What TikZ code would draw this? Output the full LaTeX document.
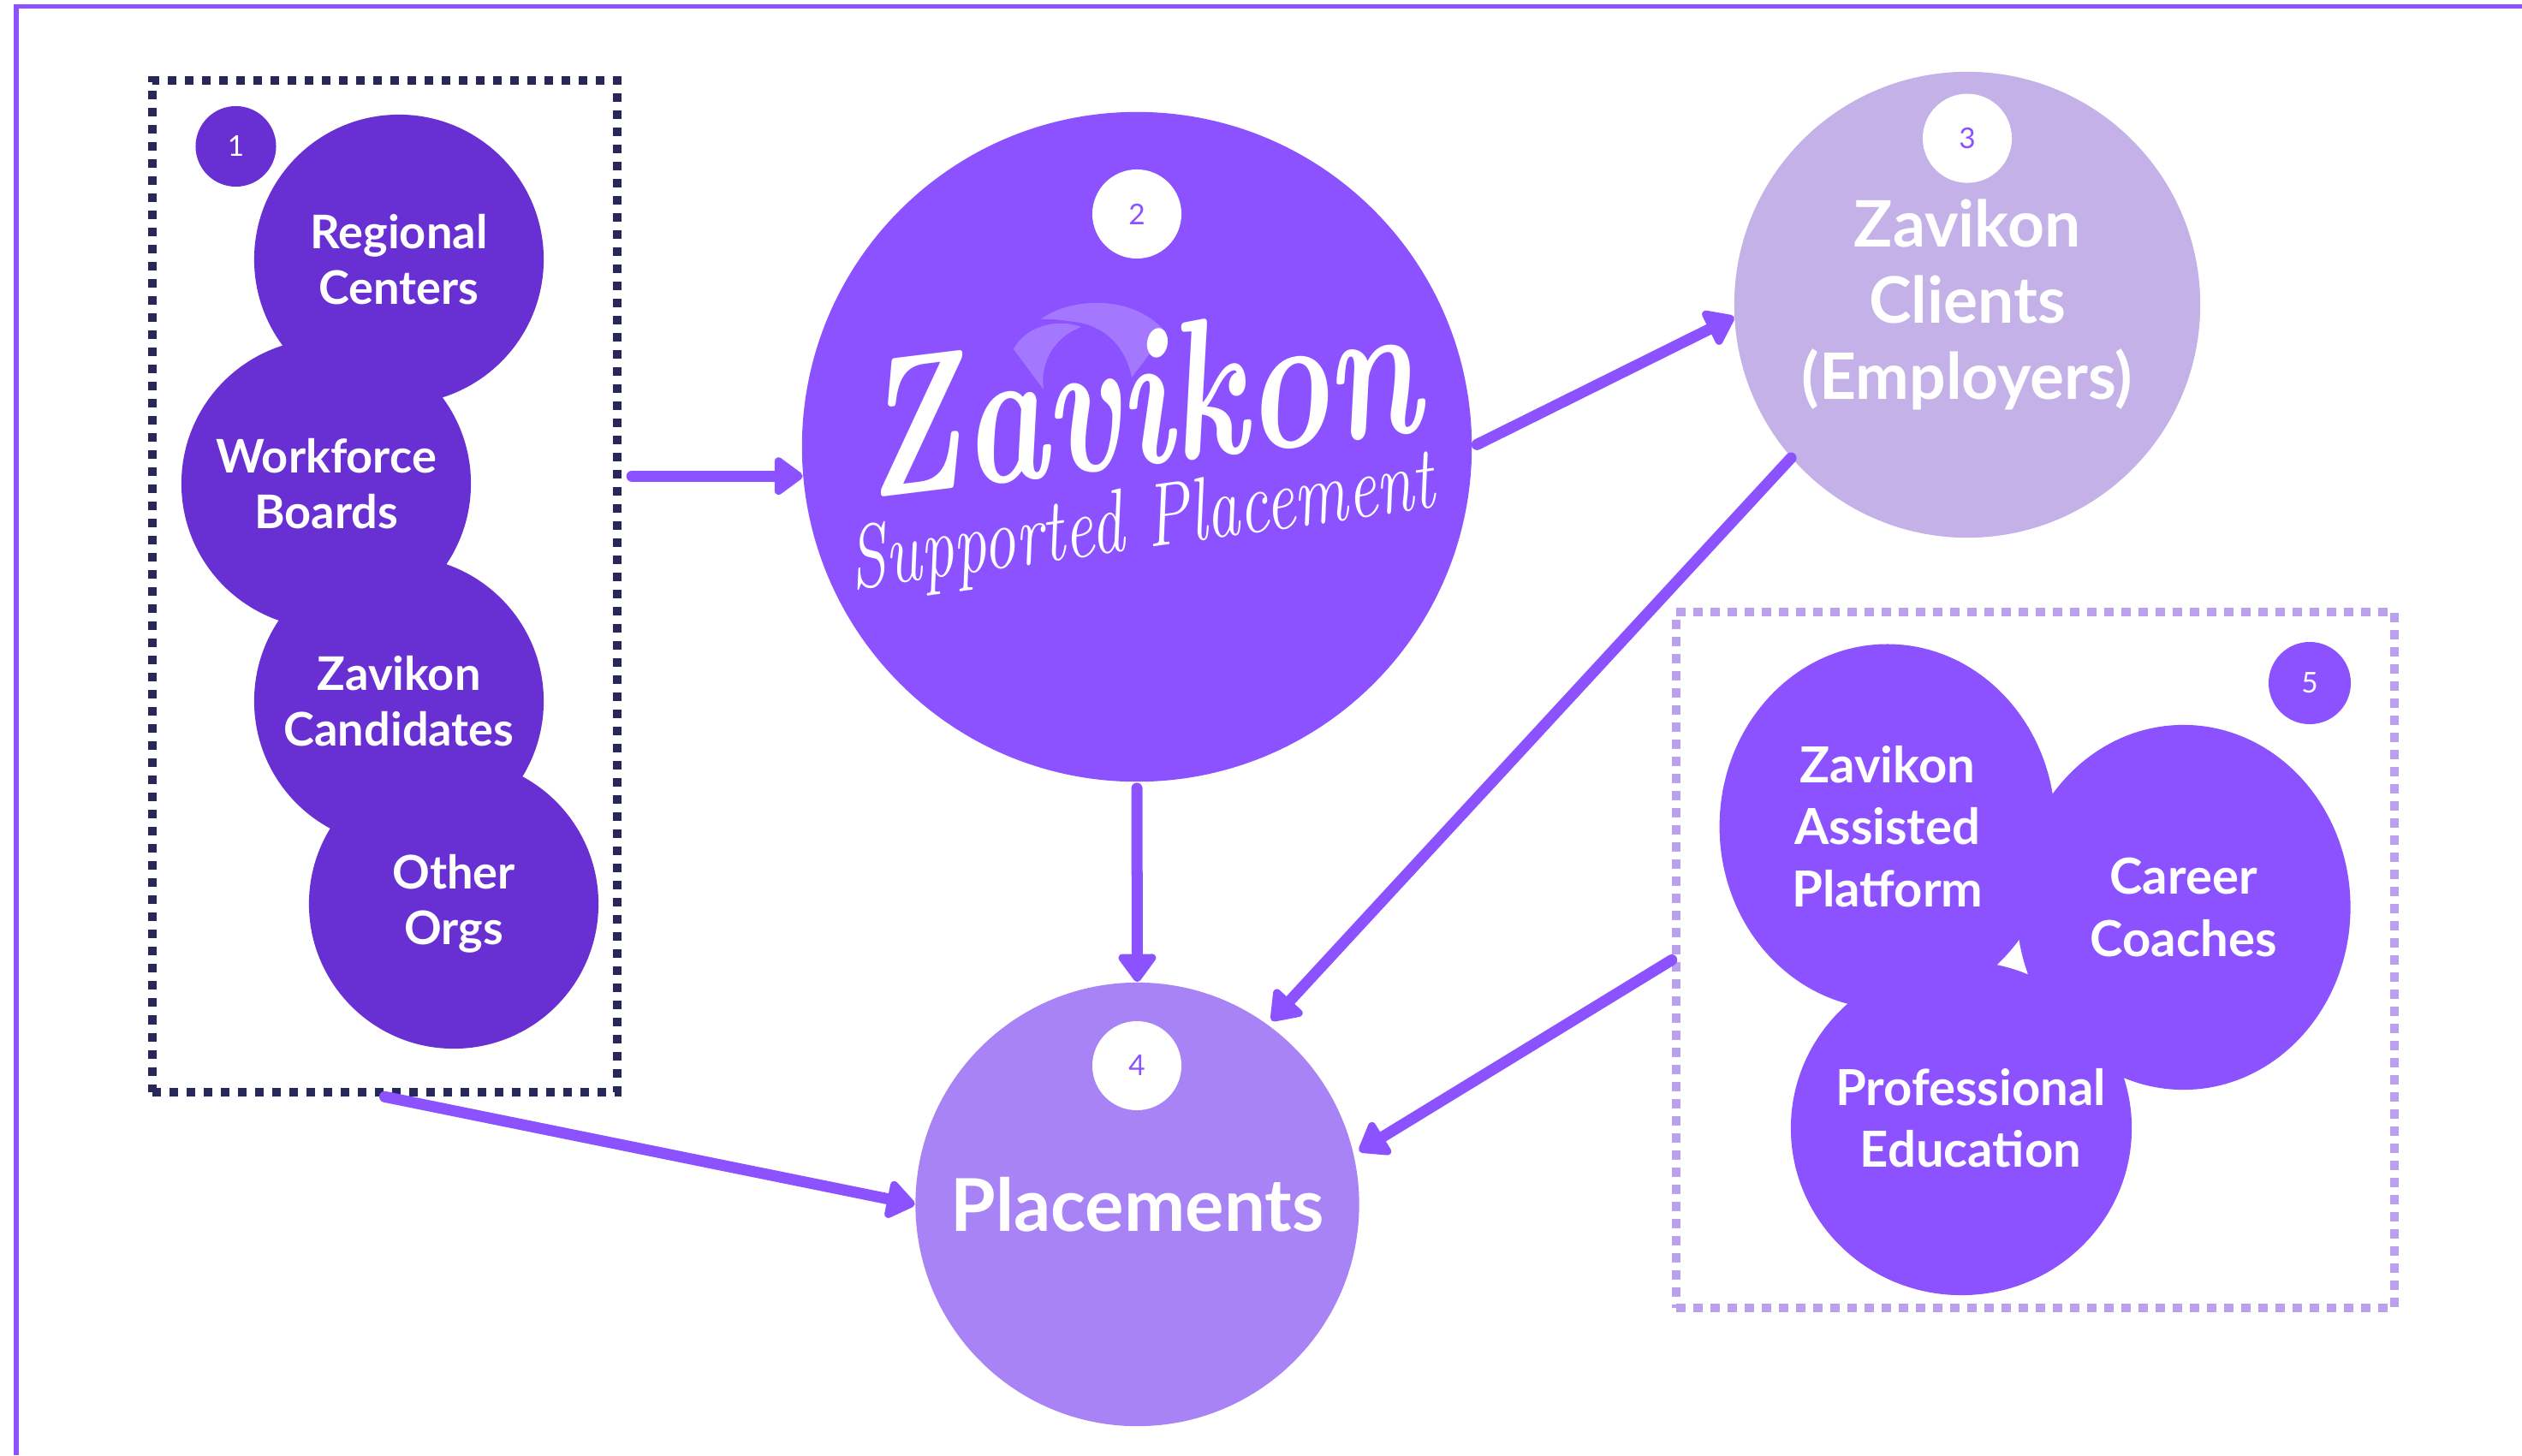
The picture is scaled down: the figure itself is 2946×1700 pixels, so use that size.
\documentclass[tikz,border=0pt]{standalone}
\usepackage{fontspec}
\usepackage{graphicx}
\setmainfont{Lato}
\newfontfamily\logofont{Latin Modern Roman}
\usetikzlibrary{arrows.meta,shapes.geometric}
\definecolor{dpurple}{HTML}{6830D3}
\definecolor{mpurple}{HTML}{8C52FF}
\definecolor{lpurple}{HTML}{C3B1E8}
\definecolor{ppurple}{HTML}{A883F5}
\definecolor{navy}{HTML}{28275A}
\definecolor{lav}{HTML}{BBA0EE}
\definecolor{logoc}{HTML}{A477FF}
\begin{document}
\begin{tikzpicture}[x=0.01cm,y=-0.01cm,
  blob/.style={circle,inner sep=0pt,text=white,align=center},
  gone/.style={blob,fill=dpurple,minimum size=3.38cm,font={\fontsize{15.4}{18.5}\selectfont\bfseries}},
  gfive/.style={ellipse,inner sep=0pt,text=white,align=center,fill=mpurple,font={\fontsize{16.5}{20.5}\selectfont\bfseries}},
  gfivetext/.style={inner sep=0pt,text=white,align=center,font={\fontsize{16.5}{20.5}\selectfont\bfseries}},
  wbadge/.style={circle,inner sep=0pt,fill=white,text=mpurple,minimum size=1.04cm,font={\fontsize{9.5}{10}\selectfont}},
  pbadge/.style={circle,inner sep=0pt,text=white,font={\fontsize{9.5}{10}\selectfont}},
  arr/.style={draw=mpurple,line width=0.13cm,line cap=round,-{Triangle[width=0.5cm,length=0.36cm,round]}},
  dotbox/.style={rectangle,inner sep=0pt,line width=0.1cm,dash pattern=on 0.1cm off 0.1cm}]
\useasboundingbox (0,0) rectangle (2946,1700);
\fill[white] (0,0) rectangle (2946,1700);
% frame
\draw[mpurple,line width=0.05cm] (19,1700) -- (19,8) -- (2946,8);
% group 1
\node[dotbox,draw=navy,minimum width=5.43cm,minimum height=11.82cm] (box1) at (449.5,685) {};
\node[gone] (reg) at (466,303) {Regional\\Centers};
\node[gone] (wfb) at (381,565) {Workforce\\Boards};
\node[gone] (cand) at (466,819) {Zavikon\\Candidates};
\node[gone] (oth) at (530,1056) {Other\\Orgs};
\node[pbadge,fill=dpurple,minimum size=0.94cm] (b1) at (275.5,171) {1};
% circle 2
\node[blob,fill=mpurple,minimum size=7.82cm] (c2) at (1328,522) {};
\node[wbadge] (b2) at (1328,250) {2};
\fill[logoc] (1216,373) .. controls (1245,350) and (1320,340) .. (1362,388) -- (1322,441)
  .. controls (1315,405) and (1290,380) .. (1255,376) .. controls (1240,374) and (1225,372) .. (1216,373) -- cycle;
\fill[logoc] (1184,408) .. controls (1195,385) and (1230,370) .. (1263,382)
  .. controls (1235,392) and (1214,420) .. (1219,455) -- cycle;
\node[text=white,rotate=7,inner sep=0pt] (lz) at (1330,464) {\scalebox{1}[1.4]{\logofont\fontsize{47}{47}\selectfont\bfseries\itshape Zavikon}};
\node[text=white,rotate=8,inner sep=0pt] (lsp) at (1334,614) {\scalebox{1}[1.35]{\logofont\fontsize{22}{22}\selectfont\itshape Supported Placement}};
% circle 3
\node[blob,fill=lpurple,minimum size=5.44cm,font={\fontsize{21.3}{25.3}\selectfont\bfseries}] (c3) at (2298,356) {Zavikon\\Clients\\(Employers)};
\node[wbadge] (b3) at (2298,161.6) {3};
% circle 4
\node[blob,fill=ppurple,minimum size=5.18cm,font={\fontsize{24.2}{26}\selectfont\bfseries}] (c4) at (1328.5,1407) {Placements};
\node[wbadge] (b4) at (1328,1245) {4};
% group 5
\node[dotbox,draw=lav,minimum width=8.39cm,minimum height=8.13cm,dash pattern=on 0.11cm off 0.09cm] (box5) at (2377.5,1121.5) {};
\node[gfive,minimum width=3.92cm,minimum height=4.26cm] (zap) at (2204.7,965.6) {Zavikon\\Assisted\\Platform};
\node[gfive,minimum width=3.90cm,minimum height=4.26cm] (cc) at (2550.5,1060) {Career\\Coaches};
\node[gfive,minimum width=3.98cm,minimum height=3.90cm] (pe) at (2291,1318) {};
\node[gfivetext] (pet) at (2302,1306) {Professional\\Education};
\node[pbadge,fill=mpurple,minimum size=0.96cm] (b5) at (2698,798) {5};
% arrows
\draw[arr,shorten <=0.12cm] (c2.185 -| box1.east) -- (c2.185);
\draw[arr,shorten <=0.06cm] (c2.0) -- (c3.183);
\draw[arr,shorten <=0.07cm] (c2.south) -- (c4.north);
\draw[arr,shorten >=0.06cm] (c3.221.5) -- (c4.54);
\draw[arr,shorten >=0.07cm] (box5.west) -- (c4.13);
\draw[arr] (box1.south) -- (c4.180);
\end{tikzpicture}
\end{document}
